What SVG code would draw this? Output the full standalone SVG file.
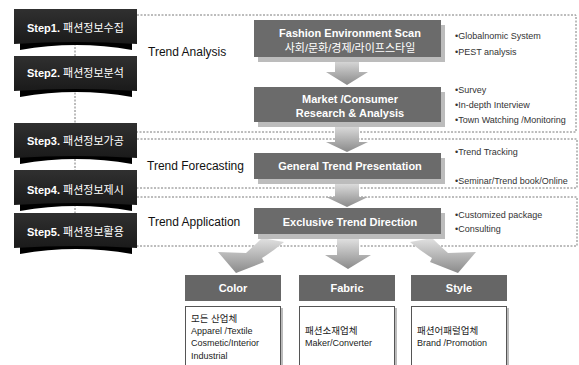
<svg xmlns="http://www.w3.org/2000/svg" width="579" height="365" viewBox="0 0 579 365">
  <style>
    .lat { font-family: "Liberation Sans", "Noto Sans CJK KR", sans-serif; }
    .step { font-size: 11px; fill: #fff; }
    .step .b { font-weight: bold; }
    .phase { font-size: 12px; fill: #111; }
    .box-t { font-size: 11px; fill: #fff; font-weight: bold; text-anchor: middle; }
    .box-k { font-size: 11px; fill: #fff; text-anchor: middle; }
    .bullet { font-size: 9px; fill: #333; }
    .cat-h { font-size: 11px; fill: #fff; font-weight: bold; text-anchor: middle; }
    .cat-t { font-size: 9px; fill: #222; }
    .cat-k { font-size: 9.5px; fill: #222; }
    .frame { fill: none; stroke: #7a7a7a; stroke-width: 1; stroke-dasharray: 2 1.5; }
    .proc { fill: #6b6b6b; }
    .proc-sh { fill: #bcbcbc; }
    .cat-head { fill: #666; }
    .cat-body { fill: #fff; stroke: #555; stroke-width: 1; }
    .cat-sh { fill: #bbb; }
  </style>
  <defs>
    <linearGradient id="stepFill" x1="0" y1="0" x2="0" y2="1">
      <stop offset="0" stop-color="#303030"/>
      <stop offset="1" stop-color="#1a1a1a"/>
    </linearGradient>
    <linearGradient id="arrowFill" x1="0" y1="0" x2="0" y2="1">
      <stop offset="0" stop-color="#e2e2e2"/>
      <stop offset="1" stop-color="#8a8a8a"/>
    </linearGradient>
    <!-- dark step plate with curled lower edge -->
    <g id="stepShape">
      <path d="M20,33 H132 V41 Q76,31 20,41 Z" fill="#000"/>
      <path d="M14,0 H137 V35 Q76,31 14,35 Z" fill="url(#stepFill)"/>
    </g>
    <!-- straight down arrow, shaft 24 wide, head 42 wide -->
    <path id="downArrow" d="M-12,0 H12 V1 H21 L0,1 Z"/>
  </defs>

  <rect width="579" height="365" fill="#fff"/>

  <!-- connectors -->
  <g id="connectors">
    <line x1="75" y1="40" x2="75" y2="215" class="frame"/>
    <path class="frame" d="M137,15 H576 V132 H137"/>
    <path class="frame" d="M137,139 H577 V188 H137"/>
    <path class="frame" d="M137,197 H577 V246 H137"/>

    <path d="M335,58 H359 V72 H368 L347,85 L326,72 H335 Z" fill="url(#arrowFill)"/>
    <path d="M335,124 H359 V142 H368 L347,152 L326,142 H335 Z" fill="url(#arrowFill)"/>
    <path d="M335,182 H359 V197 H368 L347,207 L326,197 H335 Z" fill="url(#arrowFill)"/>

    <!-- fan of arrows to the three categories -->
    <path d="M337,238 H359 V255 H371 L348,269 L325,255 H337 Z" fill="url(#arrowFill)"/>
    <path d="M262,238 L284,242 Q272,252 262,258 L264,262 L236,273 L218,252 L246,253 Q254,246 262,238 Z" fill="url(#arrowFill)"/>
    <path d="M432,238 L410,242 Q422,252 432,258 L430,262 L458,273 L476,252 L448,253 Q440,246 432,238 Z" fill="url(#arrowFill)"/>
  </g>

  <!-- steps -->
  <g id="step1" transform="translate(0,9)">
    <use href="#stepShape"/>
    <text class="lat step" x="27" y="23"><tspan class="b">Step1.</tspan> 패션정보수집</text>
  </g>
  <g id="step2" transform="translate(0,56)">
    <use href="#stepShape"/>
    <text class="lat step" x="27" y="21"><tspan class="b">Step2.</tspan> 패션정보분석</text>
  </g>
  <g id="step3" transform="translate(0,123)">
    <use href="#stepShape"/>
    <text class="lat step" x="27" y="22"><tspan class="b">Step3.</tspan> 패션정보가공</text>
  </g>
  <g id="step4" transform="translate(0,170)">
    <use href="#stepShape"/>
    <text class="lat step" x="27" y="24"><tspan class="b">Step4.</tspan> 패션정보제시</text>
  </g>
  <g id="step5" transform="translate(0,213)">
    <use href="#stepShape"/>
    <text class="lat step" x="27" y="23"><tspan class="b">Step5.</tspan> 패션정보활용</text>
  </g>

  <!-- phase labels -->
  <g id="phase-analysis"><text class="lat phase" x="148" y="56">Trend Analysis</text></g>
  <g id="phase-forecasting"><text class="lat phase" x="147" y="170">Trend Forecasting</text></g>
  <g id="phase-application"><text class="lat phase" x="148" y="226">Trend Application</text></g>

  <!-- process boxes -->
  <g id="fashion-scan">
    <rect class="proc-sh" x="258" y="25" width="187" height="37"/>
    <rect class="proc" x="254" y="20" width="187" height="37"/>
    <text class="lat box-t" x="350" y="37">Fashion Environment Scan</text>
    <text class="lat box-k" x="350" y="52">사회/문화/경제/라이프스타일</text>
  </g>
  <g id="market-research">
    <rect class="proc-sh" x="258" y="92" width="187" height="35"/>
    <rect class="proc" x="254" y="87" width="187" height="35"/>
    <text class="lat box-t" x="350" y="103">Market /Consumer</text>
    <text class="lat box-t" x="350" y="117">Research &amp; Analysis</text>
  </g>
  <g id="general-trend">
    <rect class="proc-sh" x="258" y="158" width="187" height="26"/>
    <rect class="proc" x="254" y="153" width="187" height="26"/>
    <text class="lat box-t" x="350" y="170">General Trend Presentation</text>
  </g>
  <g id="exclusive-trend">
    <rect class="proc-sh" x="258" y="213" width="187" height="26"/>
    <rect class="proc" x="254" y="208" width="187" height="26"/>
    <text class="lat box-t" x="350" y="226">Exclusive Trend Direction</text>
  </g>

  <!-- bullet notes -->
  <g id="notes-scan">
    <text class="lat bullet" x="455" y="39">•Globalnomic System</text>
    <text class="lat bullet" x="455" y="55">•PEST analysis</text>
  </g>
  <g id="notes-market">
    <text class="lat bullet" x="455" y="93">•Survey</text>
    <text class="lat bullet" x="455" y="108">•In-depth Interview</text>
    <text class="lat bullet" x="455" y="123">•Town Watching /Monitoring</text>
  </g>
  <g id="notes-general">
    <text class="lat bullet" x="455" y="155">•Trend Tracking</text>
    <text class="lat bullet" x="455" y="184">•Seminar/Trend book/Online</text>
  </g>
  <g id="notes-exclusive">
    <text class="lat bullet" x="455" y="218">•Customized package</text>
    <text class="lat bullet" x="455" y="232">•Consulting</text>
  </g>

  <!-- categories -->
  <g id="color">
    <rect class="cat-head" x="185" y="275" width="96" height="26"/>
    <text class="lat cat-h" x="233" y="292">Color</text>
    <rect class="cat-sh" x="187" y="308" width="96" height="70"/>
    <rect class="cat-body" x="185.5" y="306.5" width="95" height="70"/>
    <text class="lat cat-k" x="191" y="322">모든 산업체</text>
    <text class="lat cat-t" x="191" y="334">Apparel /Textile</text>
    <text class="lat cat-t" x="191" y="346">Cosmetic/Interior</text>
    <text class="lat cat-t" x="191" y="359">Industrial</text>
  </g>
  <g id="fabric">
    <rect class="cat-head" x="299" y="275" width="96" height="26"/>
    <text class="lat cat-h" x="347" y="292">Fabric</text>
    <rect class="cat-sh" x="301" y="308" width="96" height="70"/>
    <rect class="cat-body" x="299.5" y="306.5" width="95" height="70"/>
    <text class="lat cat-k" x="305" y="334">패션소재업체</text>
    <text class="lat cat-t" x="305" y="346">Maker/Converter</text>
  </g>
  <g id="style">
    <rect class="cat-head" x="411" y="275" width="96" height="26"/>
    <text class="lat cat-h" x="459" y="292">Style</text>
    <rect class="cat-sh" x="413" y="308" width="96" height="70"/>
    <rect class="cat-body" x="411.5" y="306.5" width="95" height="70"/>
    <text class="lat cat-k" x="417" y="334">패션어패럴업체</text>
    <text class="lat cat-t" x="417" y="346">Brand /Promotion</text>
  </g>
</svg>
